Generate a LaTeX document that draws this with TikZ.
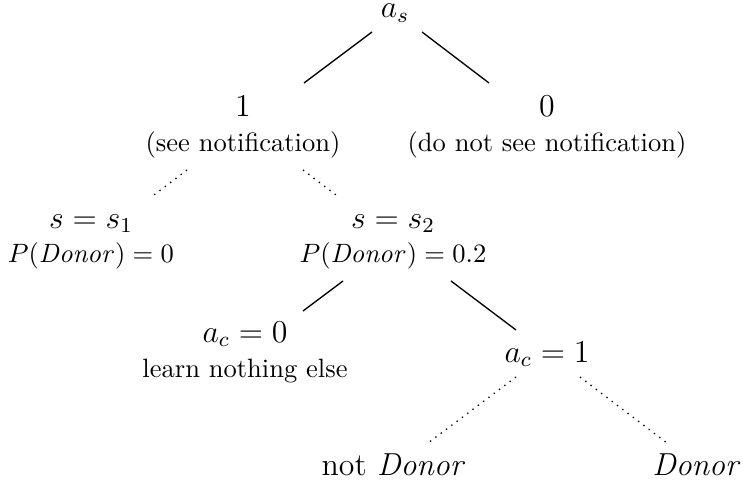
\documentclass[tikz,border=0pt]{standalone}
\begin{document}
\begin{tikzpicture}[x=0.377pt,y=-0.377pt,
  mainlbl/.style={anchor=base,inner sep=0pt,font=\large},
  sublbl/.style={anchor=base,inner sep=0pt,font=\normalsize},
  solidedge/.style={line width=0.5pt},
  dotedge/.style={line width=0.5pt,dotted}]
\useasboundingbox (0,0) rectangle (743,485);
% nodes
\node[mainlbl] (as) at (395,18) {$a_s$};
\node[mainlbl] (one) at (243,116) {$1$};
\node[sublbl] (seen) at (243,151) {(see notification)};
\node[mainlbl] (zero) at (547,116) {$0$};
\node[sublbl] (notseen) at (547,151) {(do not see notification)};
\node[mainlbl] (s1) at (91,228) {$s=s_1$};
\node[sublbl] (p1) at (91,262) {$P(\mathit{Donor})=0$};
\node[mainlbl] (s2) at (393,228) {$s=s_2$};
\node[sublbl] (p2) at (393,262) {$P(\mathit{Donor})=0.2$};
\node[mainlbl] (ac0) at (245,342) {$a_c=0$};
\node[sublbl] (learn) at (245,377) {learn nothing else};
\node[mainlbl] (ac1) at (547,362) {$a_c=1$};
\node[mainlbl] (notd) at (394,475) {not $\mathit{Donor}$};
\node[mainlbl] (don) at (697,475) {$\mathit{Donor}$};
% edge end points
\coordinate (asL) at (372,32);  \coordinate (oneT) at (304,83);
\coordinate (asR) at (422,32);  \coordinate (zeroT) at (489,83);
\coordinate (seenL) at (187,170); \coordinate (s1T) at (150,198);
\coordinate (seenR) at (303,170); \coordinate (s2T) at (340,198);
\coordinate (p2L) at (343,281); \coordinate (ac0T) at (303,311);
\coordinate (p2R) at (451,281); \coordinate (ac1T) at (516,330);
\coordinate (ac1L) at (516,377); \coordinate (notdT) at (428,443);
\coordinate (ac1R) at (580,377); \coordinate (donT) at (667,443);
% connectors
\draw[solidedge] (asL) -- (oneT);
\draw[solidedge] (asR) -- (zeroT);
\draw[dotedge] (seenL) -- (s1T);
\draw[dotedge] (seenR) -- (s2T);
\draw[solidedge] (p2L) -- (ac0T);
\draw[solidedge] (p2R) -- (ac1T);
\draw[dotedge] (ac1L) -- (notdT);
\draw[dotedge] (ac1R) -- (donT);
\end{tikzpicture}
\end{document}
